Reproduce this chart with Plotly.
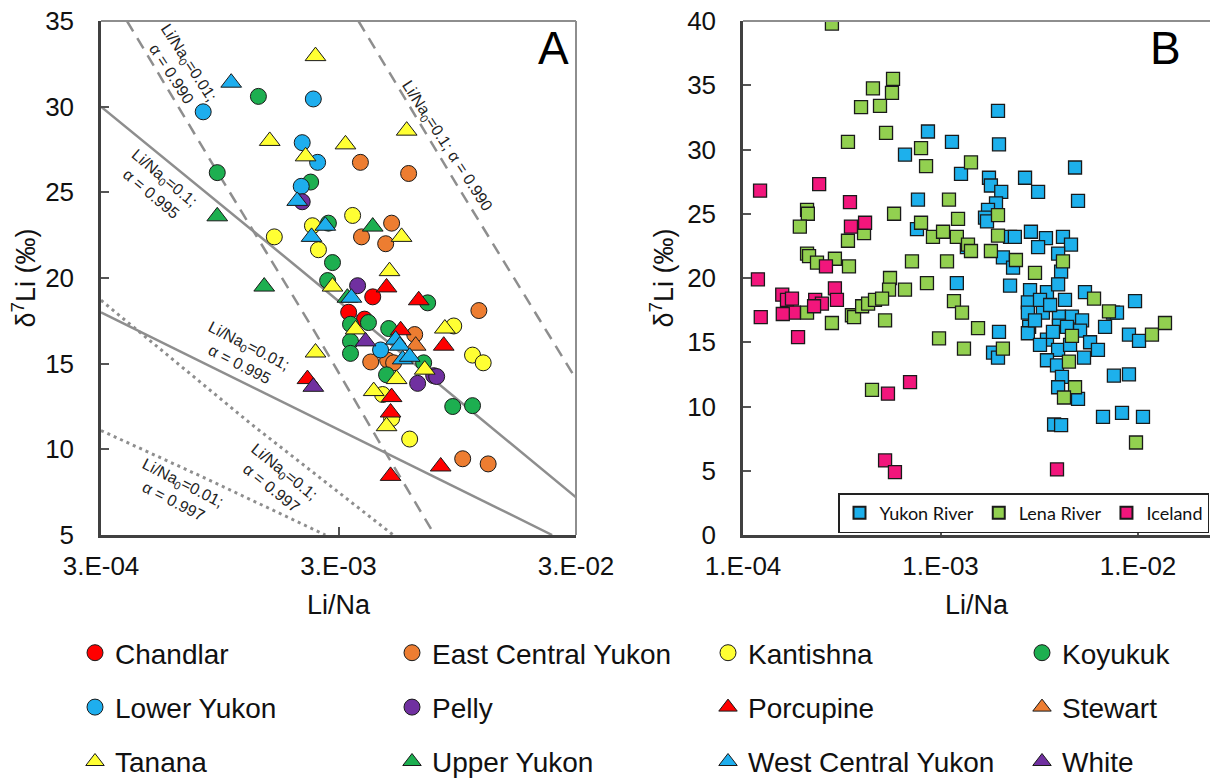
import plotly.graph_objects as go

# ---------------- Panel A : sample data (Li/Na, d7Li) ----------------
chandlar_x = [4.18e-3, 3.31e-3, 3.86e-3]
chandlar_y = [18.9, 18.0, 17.6]
ecy_x = [3.71e-3, 5.92e-3, 5.02e-3, 3.75e-3, 4.74e-3, 1.17e-2, 6.28e-3, 4.10e-3, 4.83e-3, 5.12e-3, 1.00e-2, 1.28e-2]
ecy_y = [26.75, 26.1, 23.2, 22.4, 22.0, 18.1, 16.7, 15.1, 15.2, 15.05, 9.45, 9.15]
kantishna_x = [1.61e-3, 3.44e-3, 2.33e-3, 2.47e-3, 9.17e-3, 1.10e-2, 1.22e-2, 4.60e-3, 5.02e-3, 5.98e-3]
kantishna_y = [22.4, 23.65, 23.05, 21.65, 17.2, 15.5, 15.05, 13.2, 11.8, 10.6]
koyukuk_x = [1.38e-3, 9.26e-4, 2.29e-3, 2.72e-3, 2.83e-3, 2.70e-3, 7.12e-3, 4.01e-3, 3.37e-3, 4.88e-3,
             3.37e-3, 3.37e-3, 6.85e-3, 4.78e-3, 9.08e-3, 1.10e-2]
koyukuk_y = [30.6, 26.15, 25.6, 23.2, 20.9, 19.85, 18.55, 17.4, 17.3, 17.05, 16.3, 15.6, 15.05, 14.35, 12.5, 12.55]
lower_yukon_x = [8.08e-4, 2.35e-3, 2.11e-3, 2.45e-3, 2.09e-3, 4.51e-3]
lower_yukon_y = [29.7, 30.45, 27.9, 26.75, 25.35, 15.8]
pelly_x = [2.11e-3, 3.61e-3, 7.55e-3, 7.77e-3, 6.46e-3]
pelly_y = [24.45, 19.55, 14.3, 14.25, 13.85]
porcupine_x = [4.78e-3, 6.53e-3, 5.48e-3, 8.32e-3, 2.22e-3, 5.02e-3, 4.97e-3, 8.08e-3, 4.97e-3]
porcupine_y = [19.45, 18.7, 16.95, 16.05, 14.1, 13.05, 12.15, 9.0, 8.45]
stewart_x = [6.34e-3]
stewart_y = [16.05]
tanana_x = [2.40e-3, 1.54e-3, 2.18e-3, 3.21e-3, 5.81e-3, 5.53e-3, 4.92e-3, 2.83e-3, 3.54e-3, 8.41e-3,
            2.40e-3, 6.92e-3, 5.27e-3, 4.22e-3, 4.78e-3]
tanana_y = [32.95, 28.0, 27.1, 27.8, 28.6, 22.4, 20.4, 19.5, 17.0, 17.05, 15.65, 14.65, 14.1, 13.4, 11.35]
upper_yukon_x = [9.26e-4, 4.18e-3, 1.46e-3, 3.27e-3]
upper_yukon_y = [23.6, 23.0, 19.5, 18.85]
wcy_x = [1.06e-3, 2.01e-3, 2.64e-3, 2.31e-3, 3.40e-3, 5.22e-3, 5.43e-3, 5.59e-3, 5.98e-3]
wcy_y = [31.4, 24.5, 23.05, 22.4, 18.85, 16.4, 16.05, 15.25, 15.4]
white_x = [3.90e-3, 2.35e-3]
white_y = [16.3, 13.65]

# ---------------- Panel A : model curves ----------------
m_01_990_x = [3.86e-4, 9.26e-4, 2.35e-3, 4.38e-3, 7.62e-3]
m_01_990_y = [35.0, 26.2, 17.0, 10.6, 5.0]
m_1_990_x = [3.64e-3, 9.53e-3, 3.0e-2]
m_1_990_y = [35.0, 25.35, 14.1]
m_1_995_x = [3.0e-4, 2.07e-3, 3.0e-2]
m_1_995_y = [30.0, 20.5, 7.2]
m_01_995_x = [3.0e-4, 2.67e-3, 2.38e-2]
m_01_995_y = [18.0, 11.5, 5.0]
m_1_997_x = [3.0e-4, 1.28e-3, 5.1e-3]
m_1_997_y = [18.7, 11.5, 5.0]
m_01_997_x = [3.0e-4, 8.9e-4, 2.64e-3]
m_01_997_y = [11.1, 8.1, 5.0]

# ---------------- Panel B data ----------------
yukon_x = [6.61e-4, 1.955e-3, 8.64e-4, 1.143e-3, 1.978e-3, 4.80e-3, 1.27e-3, 1.76e-3, 2.68e-3, 1.80e-3,
           2.03e-3, 3.12e-3, 7.69e-4, 4.97e-3, 1.91e-3, 1.74e-3, 1.68e-3, 1.72e-3, 7.60e-4, 2.25e-3,
           2.38e-3, 2.87e-3, 3.42e-3, 4.17e-3, 3.12e-3, 4.58e-3, 3.94e-3, 1.36e-3, 2.07e-3, 2.33e-3,
           4.08e-3, 1.21e-3, 2.25e-3, 2.84e-3, 3.46e-3, 3.94e-3, 5.39e-3, 9.66e-3, 2.77e-3, 3.30e-3,
           2.77e-3, 2.81e-3, 2.77e-3, 3.46e-3, 3.98e-3, 4.63e-3, 5.21e-3, 3.98e-3, 4.37e-3, 5.09e-3,
           3.71e-3, 5.72e-3, 6.27e-3, 5.33e-3, 3.94e-3, 3.46e-3, 3.89e-3, 4.12e-3, 3.94e-3, 4.97e-3,
           6.81e-3, 7.47e-3, 7.83e-3, 9.00e-3, 1.012e-2, 1.978e-3, 1.845e-3, 1.955e-3, 7.55e-3, 9.00e-3,
           6.65e-3, 8.30e-3, 1.06e-2, 3.76e-3, 4.08e-3, 3.19e-3, 3.59e-3, 4.27e-3, 3.01e-3, 4.53e-3, 3.19e-3]
yukon_y = [29.6, 33.0, 31.4, 30.6, 30.4, 28.6, 28.1, 27.8, 27.8, 27.2,
           26.7, 26.7, 26.1, 26.0, 25.8, 25.3, 24.7, 24.4, 23.8, 23.2,
           23.2, 23.6, 23.1, 23.2, 22.4, 22.6, 21.9, 22.4, 21.6, 20.8,
           20.5, 19.6, 19.4, 19.05, 18.9, 19.5, 18.9, 18.2, 18.1, 17.3,
           17.3, 16.2, 15.7, 15.2, 17.0, 17.0, 16.7, 16.3, 16.2, 15.9,
           15.8, 15.0, 14.4, 13.8, 14.4, 13.6, 13.2, 12.3, 11.5, 10.6,
           16.2, 17.3, 17.3, 15.6, 15.1, 15.8, 14.2, 13.8, 12.4, 12.5,
           9.2, 9.5, 9.2, 8.6, 8.55, 18.3, 17.9, 18.3, 16.7, 14.8, 14.8]
lena_x = [2.82e-4, 4.55e-4, 5.75e-4, 5.68e-4, 3.96e-4, 4.94e-4, 5.30e-4, 3.40e-4, 5.82e-4, 2.11e-4,
          2.13e-4, 1.94e-4, 4.10e-4, 3.40e-4, 2.11e-4, 2.16e-4, 2.37e-4, 2.92e-4, 3.44e-4, 5.55e-4,
          5.49e-4, 6.61e-4, 2.11e-4, 2.82e-4, 3.56e-4, 3.65e-4, 4.01e-4, 4.30e-4, 4.66e-4, 5.06e-4,
          5.24e-4, 4.50e-4, 7.97e-4, 8.45e-4, 1.427e-3, 1.104e-3, 7.97e-4, 1.227e-3, 1.955e-3, 9.16e-4,
          1.03e-3, 1.21e-3, 1.378e-3, 1.427e-3, 1.80e-3, 1.955e-3, 2.41e-3, 7.17e-4, 1.079e-3, 3.01e-3,
          4.17e-3, 8.54e-4, 1.17e-3, 1.285e-3, 9.83e-4, 1.549e-3, 1.315e-3, 2.07e-3, 4.63e-3, 4.47e-3,
          4.80e-3, 4.22e-3, 5.99e-3, 7.13e-3, 1.177e-2, 1.37e-2, 9.77e-3]
lena_y = [39.8, 34.75, 35.5, 34.4, 33.3, 33.4, 31.3, 30.6, 25.0, 25.3,
          25.0, 24.0, 23.5, 22.9, 21.9, 21.7, 21.2, 21.5, 20.9, 20.0,
          19.1, 19.1, 17.3, 16.5, 17.1, 16.95, 17.8, 18.0, 18.3, 18.4,
          16.7, 11.3, 30.1, 28.7, 29.0, 26.1, 24.3, 24.6, 24.9, 23.2,
          23.6, 23.2, 22.6, 22.1, 22.1, 23.3, 21.4, 21.3, 21.3, 20.4,
          21.3, 19.6, 18.2, 17.3, 15.3, 16.1, 14.5, 14.5, 15.5, 13.5,
          11.5, 10.7, 18.4, 17.4, 15.6, 16.5, 7.2]
iceland_x = [1.22e-4, 2.43e-4, 3.48e-4, 3.52e-4, 4.15e-4, 1.19e-4, 2.63e-4, 2.92e-4, 1.58e-4, 1.67e-4,
             1.77e-4, 1.81e-4, 1.23e-4, 1.59e-4, 2.32e-4, 2.51e-4, 2.29e-4, 2.99e-4, 1.90e-4, 5.42e-4,
             7.01e-4, 5.24e-4, 5.88e-4, 3.89e-3]
iceland_y = [26.8, 27.3, 25.9, 24.0, 24.3, 19.9, 20.9, 19.2, 18.7, 18.3,
             18.4, 17.3, 16.95, 17.2, 18.3, 18.0, 17.8, 18.3, 15.4, 11.0,
             11.9, 5.8, 4.9, 5.1]

# tick labels
a_tickvals = [3e-4, 3e-3, 3e-2]
a_ticktext = ["3.E-04", "3.E-03", "3.E-02"]
b_tickvals = [1e-4, 1e-3, 1e-2]
b_ticktext = ["1.E-04", "1.E-03", "1.E-02"]

W, H = 1210, 780
FONT = "Liberation Sans, Arial, sans-serif"
GRAY = "#8e8e8e"
AXC = "#404040"

fig = go.Figure()

# model lines
model_lines = [
    (m_01_990_x, m_01_990_y, "12px,8px", 2.5),
    (m_1_990_x, m_1_990_y, "12px,8px", 2.5),
    (m_1_995_x, m_1_995_y, "solid", 2.5),
    (m_01_995_x, m_01_995_y, "solid", 2.5),
    (m_1_997_x, m_1_997_y, "3px,4px", 3),
    (m_01_997_x, m_01_997_y, "3px,4px", 3),
]
for lx, ly, dsh, lw in model_lines:
    fig.add_trace(go.Scatter(x=lx, y=ly, mode="lines", line=dict(color=GRAY, width=lw, dash=dsh),
                             showlegend=False, hoverinfo="skip", xaxis="x", yaxis="y"))

RED, ORANGE, YELLOW, GREEN, BLUE, PURPLE = "#FF0000", "#ED7D31", "#FFFF33", "#1DAF50", "#1EAEEE", "#7030A0"
cats = [
    ("Chandlar", chandlar_x, chandlar_y, "circle", RED, "legend2"),
    ("East Central Yukon", ecy_x, ecy_y, "circle", ORANGE, "legend3"),
    ("Kantishna", kantishna_x, kantishna_y, "circle", YELLOW, "legend4"),
    ("Koyukuk", koyukuk_x, koyukuk_y, "circle", GREEN, "legend5"),
    ("Lower Yukon", lower_yukon_x, lower_yukon_y, "circle", BLUE, "legend2"),
    ("Pelly", pelly_x, pelly_y, "circle", PURPLE, "legend3"),
    ("Porcupine", porcupine_x, porcupine_y, "triangle-up", RED, "legend4"),
    ("Stewart", stewart_x, stewart_y, "triangle-up", ORANGE, "legend5"),
    ("Tanana", tanana_x, tanana_y, "triangle-up", YELLOW, "legend2"),
    ("Upper Yukon", upper_yukon_x, upper_yukon_y, "triangle-up", GREEN, "legend3"),
    ("West Central Yukon", wcy_x, wcy_y, "triangle-up", BLUE, "legend4"),
    ("White", white_x, white_y, "triangle-up", PURPLE, "legend5"),
]
for name, cx, cy, sym, col, lg in cats:
    fig.add_trace(go.Scatter(
        x=cx, y=cy, mode="markers", name=name, legend=lg, legendgroup=name,
        marker=dict(symbol=sym, size=16 if sym == "circle" else 18, color=col,
                    line=dict(color="#1a1a1a", width=1)),
        xaxis="x", yaxis="y"))

for name, cx, cy, col in [("Yukon River", yukon_x, yukon_y, "#1DB0EC"),
                          ("Lena River", lena_x, lena_y, "#92D050"),
                          ("Iceland", iceland_x, iceland_y, "#F2167C")]:
    fig.add_trace(go.Scatter(
        x=cx, y=cy, mode="markers", name=name, legend="legend",
        marker=dict(symbol="square", size=13, color=col, line=dict(color="#1a1a1a", width=1.3)),
        xaxis="x2", yaxis="y2"))

ydom = [1 - 535 / H, 1 - 21 / H]
axis_common = dict(showline=True, linecolor=AXC, linewidth=2.5, ticks="inside", ticklen=8,
                   tickwidth=1.5, tickcolor="#555", showgrid=False, zeroline=False, automargin=False,
                   tickfont=dict(family=FONT, size=26, color="#111"))
title_font = dict(family=FONT, size=27, color="#111")

fig.update_layout(
    template="none",
    width=W, height=H, margin=dict(l=0, r=0, t=0, b=0, autoexpand=False),
    paper_bgcolor="white", plot_bgcolor="white",
    font=dict(family=FONT, color="#111"),
    xaxis=dict(domain=[101 / W, 576 / W], type="log", range=[-3.5229, -1.5229],
               tickvals=a_tickvals, ticktext=a_ticktext, ticklabelstandoff=6,
               title=dict(text="Li/Na", font=title_font, standoff=16), anchor="y", **axis_common),
    yaxis=dict(domain=ydom, range=[5, 35], tickvals=[5, 10, 15, 20, 25, 30, 35],
               ticklabelstandoff=19,
               title=dict(text="δ<sup>7</sup>Li (‰)", font=title_font, standoff=2),
               anchor="x", **axis_common),
    xaxis2=dict(domain=[743 / W, 1.0], type="log", range=[-4, -1.6354],
                tickvals=b_tickvals, ticktext=b_ticktext, ticklabelstandoff=6,
                title=dict(text="Li/Na", font=title_font, standoff=16), anchor="y2", **axis_common),
    yaxis2=dict(domain=ydom, range=[0, 40], tickvals=list(range(0, 45, 5)), ticklabelstandoff=19,
                title=dict(text="δ<sup>7</sup>Li (‰)", font=title_font, standoff=6),
                anchor="x2", **axis_common),
    legend=dict(orientation="h", x=838 / W, y=1 - 493 / H, xanchor="left", yanchor="top",
                bordercolor="#222", borderwidth=1.5, bgcolor="white", itemsizing="constant",
                font=dict(family="Lato, sans-serif", size=18, color="#111"), itemwidth=30),
    showlegend=True,
)

leg_font = dict(family=FONT, size=28, color="#111")
for i, xpx in zip(range(2, 6), [75, 392, 708, 1022]):
    fig.update_layout({f"legend{i}": dict(x=xpx / W, y=1 - 628 / H, xanchor="left", yanchor="top",
                                          orientation="v", font=leg_font, tracegroupgap=15,
                                          bgcolor="rgba(0,0,0,0)")})

# frame lines (top/right gray)
fig.add_shape(type="line", xref="x domain", yref="y domain", x0=0, x1=1, y0=1, y1=1,
              line=dict(color=GRAY, width=2))
fig.add_shape(type="line", xref="x domain", yref="y domain", x0=1, x1=1, y0=0, y1=1,
              line=dict(color=GRAY, width=2))
fig.add_shape(type="line", xref="x2 domain", yref="y2 domain", x0=0, x1=1, y0=1, y1=1,
              line=dict(color=GRAY, width=2))

# curve labels
lab_font = dict(family=FONT, size=16, color="#222")
curve_labels = [
    ("Li/Na<sub>0</sub>=0.01;<br>α = 0.990", 180, 68, 57),
    ("Li/Na<sub>0</sub>=0.1; α = 0.990", 447, 146, 57),
    ("Li/Na<sub>0</sub>=0.1;<br>α = 0.995", 158, 186, 40),
    ("Li/Na<sub>0</sub>=0.01;<br>α = 0.995", 244, 355, 27),
    ("Li/Na<sub>0</sub>=0.1;<br>α = 0.997", 278, 480, 39),
    ("Li/Na<sub>0</sub>=0.01;<br>α = 0.997", 178, 492, 27),
]
for txt, px, py, ang in curve_labels:
    fig.add_annotation(text=txt, x=px / W, y=1 - py / H, xref="paper", yref="paper",
                       xanchor="center", yanchor="middle",
                       showarrow=False, textangle=ang, font=lab_font, align="center")

for letter, px in [("A", 553), ("B", 1165)]:
    fig.add_annotation(text=letter, x=px / W, y=1 - 48 / H, xref="paper", yref="paper",
                       xanchor="center", yanchor="middle",
                       showarrow=False, font=dict(family=FONT, size=46, color="#000"))

fig.write_html("out.html")
